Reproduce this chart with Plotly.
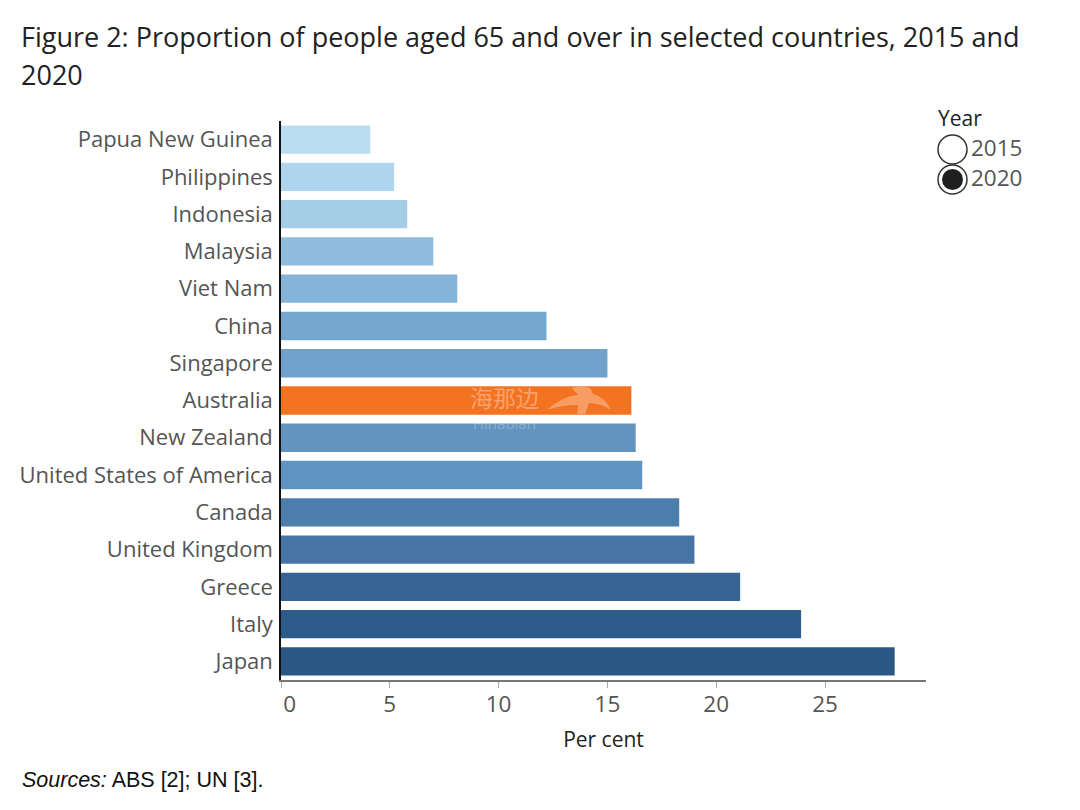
import plotly.graph_objects as go

countries = [
    "Papua New Guinea", "Philippines", "Indonesia", "Malaysia", "Viet Nam",
    "China", "Singapore", "Australia", "New Zealand", "United States of America",
    "Canada", "United Kingdom", "Greece", "Italy", "Japan",
]
per_cent = [4.1, 5.2, 5.8, 7.0, 8.1, 12.2, 15.0, 16.1, 16.3, 16.6, 18.3, 19.0, 21.1, 23.9, 28.2]
bar_colors = [
    "#b9dcf1", "#afd5ee", "#a5cde8", "#90bcde", "#86b4d9",
    "#75a7cf", "#70a2cb", "#f47321", "#6394c0", "#6093bf",
    "#4d7eab", "#4674a4", "#386493", "#2e5c8a", "#2b5784",
]
x_ticks = [0, 5, 10, 15, 20, 25]
x_tick_labels = ["\u00a0\u00a0\u00a00", "5", "10", "15", "20", "25"]
legend_years = ["2015", "2020"]

FONT = "Open Sans"
GREY = "#555555"
DARK = "#222222"


# page pixels to paper coordinates (plot area is 281-926 by 121-680 on the page)
def px(x):
    return (x - 281) / 645


def py(y):
    return 1 - (y - 121) / 559


fig = go.Figure(
    go.Bar(
        x=per_cent,
        y=countries,
        orientation="h",
        marker=dict(color=bar_colors, line_width=0),
        width=0.76,
    )
)

shapes = []
# legend circles
shapes.append(dict(type="circle", xref="paper", yref="paper", x0=px(938), x1=px(967),
                   y0=py(135), y1=py(164), line=dict(color="#333333", width=1.5), fillcolor="white"))
shapes.append(dict(type="circle", xref="paper", yref="paper", x0=px(938), x1=px(967),
                   y0=py(165), y1=py(194), line=dict(color="#333333", width=1.5), fillcolor="white"))
shapes.append(dict(type="circle", xref="paper", yref="paper", x0=px(942), x1=px(963),
                   y0=py(169), y1=py(190), line_width=0, fillcolor="#1f1f1f"))
# watermark bird on the Australia bar
bird = "M {} {} Q {} {} {} {} L {} {} Q {} {} {} {} L {} {} Q {} {} {} {} Q {} {} {} {} L {} {} L {} {} L {} {} Q {} {} {} {} Z".format(
    px(547), py(410), px(562), py(396), px(578), py(395),
    px(572), py(388),
    px(580), py(385), px(590), py(388),
    px(593), py(394),
    px(605), py(397), px(611), py(410),
    px(600), py(403), px(589), py(403),
    px(585), py(414),
    px(577), py(414),
    px(578), py(405),
    px(562), py(405), px(547), py(410),
)
shapes.append(dict(type="path", xref="paper", yref="paper", path=bird, line_width=0,
                   fillcolor="rgba(255,255,255,0.3)"))

annotations = [
    dict(text="Figure 2: Proportion of people aged 65 and over in selected countries, 2015 and",
         x=px(20), y=py(36), xanchor="left", yanchor="middle",
         font=dict(size=27, color=DARK, family=FONT)),
    dict(text="2020", x=px(20), y=py(74), xanchor="left", yanchor="middle",
         font=dict(size=27, color=DARK, family=FONT)),
    dict(text="<i>Sources:</i> ABS [2]; UN [3].", x=px(21), y=py(780), xanchor="left", yanchor="middle",
         font=dict(size=21.5, color="#111111", family="Liberation Sans")),
    dict(text="Year", x=px(937), y=py(118), xanchor="left", yanchor="middle",
         font=dict(size=21, color=DARK, family=FONT)),
    dict(text=legend_years[0], x=px(970), y=py(147), xanchor="left", yanchor="middle",
         font=dict(size=22.5, color=GREY, family=FONT)),
    dict(text=legend_years[1], x=px(970), y=py(177), xanchor="left", yanchor="middle",
         font=dict(size=22.5, color=GREY, family=FONT)),
    dict(text="海那边", x=px(504), y=py(397), xanchor="center", yanchor="middle",
         font=dict(size=23, color="rgba(255,255,255,0.35)", family="Noto Sans CJK SC")),
    dict(text="Hinabian", x=px(504), y=py(423), xanchor="center", yanchor="middle",
         font=dict(size=15, color="rgba(255,255,255,0.25)", family=FONT)),
]
for ann in annotations:
    ann.update(xref="paper", yref="paper", showarrow=False, borderpad=0)

# the page body adds 8px around the figure, so size it to what is left of the window
fig.update_layout(
    width=1072,
    height=802,
    margin=dict(l=273, r=154, t=113, b=130, autoexpand=False),
    paper_bgcolor="white",
    plot_bgcolor="white",
    showlegend=False,
    shapes=shapes,
    annotations=annotations,
    font=dict(family=FONT, color=GREY),
)
fig.update_xaxes(
    range=[0, 29.64],
    tickvals=x_ticks,
    ticktext=x_tick_labels,
    ticks="outside",
    ticklen=6,
    tickcolor="#aaaaaa",
    tickfont=dict(size=22.5, color=GREY, family=FONT),
    ticklabelstandoff=-3,
    showgrid=False,
    zeroline=False,
    showline=True,
    linecolor="#777777",
    linewidth=1.5,
    title=dict(text="Per cent", font=dict(size=21, color=DARK, family=FONT), standoff=15),
)
fig.update_yaxes(
    autorange="reversed",
    tickfont=dict(size=22, color=GREY, family=FONT),
    ticklabelstandoff=2,
    showgrid=False,
    zeroline=False,
    showline=True,
    linecolor="#111111",
    linewidth=1.5,
)

fig.write_html("out.html")
